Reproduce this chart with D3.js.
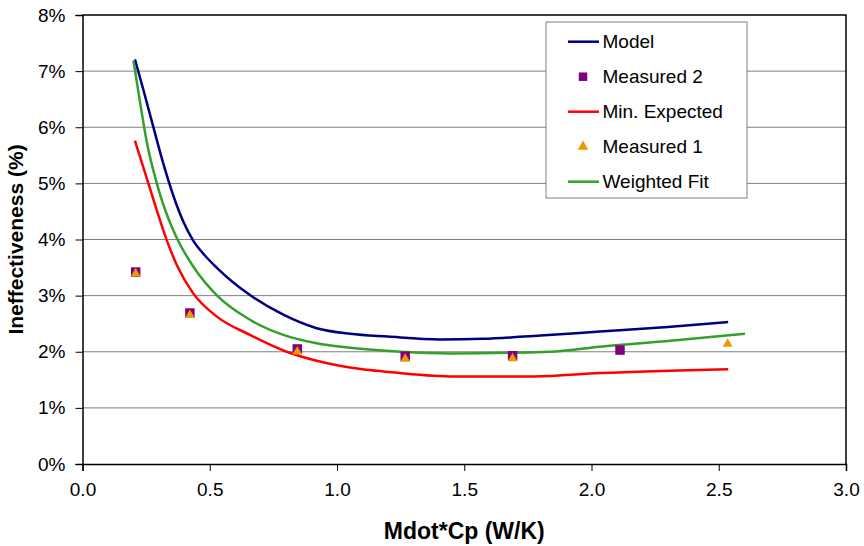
<!DOCTYPE html>
<html>
<head>
<meta charset="utf-8">
<script src="https://cdn.jsdelivr.net/npm/d3@7"></script>
<style>
  body { margin: 0; background: #fff; }
  svg { font-family: "Liberation Sans", Arial, sans-serif; }
</style>
</head>
<body>
<svg></svg>
<script>
const size = {w: 864, h: 546};
const margin = {t: 15, r: 18, b: 82, l: 82.5};
const svg = d3.select('svg').attr('width', size.w).attr('height', size.h);

// ---- data (x in W/K, y as fraction) ----
const modelX = [0.206, 0.239, 0.278, 0.317, 0.357, 0.396, 0.435, 0.48, 0.527, 0.658, 0.789, 0.920, 1.051, 1.2, 1.405, 1.574, 1.8, 2.033, 2.3, 2.537];
const modelY = [0.0721, 0.0667, 0.0601, 0.0536, 0.0478, 0.0432, 0.0398, 0.0372, 0.0350, 0.0301, 0.0266, 0.0242, 0.0232, 0.0227, 0.0222, 0.0223, 0.0229, 0.0236, 0.0244, 0.0253];

const fitX = [0.200, 0.226, 0.252, 0.292, 0.311, 0.370, 0.435, 0.527, 0.658, 0.789, 0.920, 1.051, 1.25, 1.444, 1.837, 2.033, 2.3, 2.603];
const fitY = [0.0719, 0.0645, 0.0575, 0.0500, 0.0471, 0.0403, 0.0352, 0.0301, 0.0257, 0.0230, 0.0215, 0.0207, 0.0200, 0.0197, 0.0200, 0.0209, 0.0219, 0.0232];

const minX = [0.206, 0.252, 0.292, 0.331, 0.370, 0.435, 0.527, 0.658, 0.802, 0.920, 1.0, 1.1, 1.182, 1.444, 1.771, 2.033, 2.537];
const minY = [0.0576, 0.0510, 0.0452, 0.0399, 0.0355, 0.0304, 0.0263, 0.0230, 0.0200, 0.0184, 0.0176, 0.0169, 0.0165, 0.0156, 0.0156, 0.0162, 0.0169];

const meas2X = [0.209, 0.422, 0.844, 1.268, 1.690, 2.112];
const meas2Y = [0.0342, 0.0269, 0.0205, 0.0192, 0.0193, 0.0203];

const meas1X = [0.209, 0.422, 0.844, 1.268, 1.690, 2.535];
const meas1Y = [0.0340, 0.0266, 0.0201, 0.0188, 0.0189, 0.0215];

const xTicks = [0, 0.5, 1, 1.5, 2, 2.5, 3];
const yTicks = [0, 0.01, 0.02, 0.03, 0.04, 0.05, 0.06, 0.07, 0.08];

const colors = {model: '#000080', min: '#ff0000', fit: '#33a02c', m2: '#800080', m1: '#ee9900'};

// ---- scales ----
const x = d3.scaleLinear().domain([0, 3]).range([margin.l, size.w - margin.r]);
const y = d3.scaleLinear().domain([0, 0.08]).range([size.h - margin.b, margin.t]);

// gridlines
svg.append('g').classed('grid', true)
  .selectAll('line')
  .data(yTicks.slice(1, -1))
  .join('line')
  .attr('x1', x(0)).attr('x2', x(3))
  .attr('y1', d => y(d)).attr('y2', d => y(d))
  .attr('stroke', '#808080').attr('stroke-width', 1);

// plot border (top + right)
svg.append('path')
  .attr('d', `M${x(0)},${y(0.08)}H${x(3)}V${y(0)}`)
  .attr('fill', 'none').attr('stroke', '#000').attr('stroke-width', 1.5);

// axes
const yAxis = svg.append('g')
  .attr('transform', `translate(${x(0)},0)`)
  .call(d3.axisLeft(y).tickValues(yTicks).tickFormat(d3.format('.0%')).tickSize(7).tickPadding(10));
const xAxis = svg.append('g')
  .attr('transform', `translate(0,${y(0)})`)
  .call(d3.axisBottom(x).tickValues(xTicks).tickFormat(d3.format('.1f')).tickSize(7).tickPadding(12));

[xAxis, yAxis].forEach(g => {
  g.select('.domain').attr('stroke', '#000').attr('stroke-width', 1.5);
  g.selectAll('.tick line').attr('stroke', '#000');
  g.selectAll('text').attr('font-size', 19).attr('fill', '#000').attr('font-family', 'Liberation Sans, Arial, sans-serif');
});

// axis titles
svg.append('text')
  .attr('x', (x(0) + x(3)) / 2).attr('y', 539)
  .attr('text-anchor', 'middle')
  .attr('font-size', 23).attr('font-weight', 'bold')
  .text('Mdot*Cp (W/K)');
svg.append('text')
  .attr('transform', `translate(23,${(y(0) + y(0.08)) / 2}) rotate(-90)`)
  .attr('text-anchor', 'middle')
  .attr('font-size', 21).attr('font-weight', 'bold')
  .text('Ineffectiveness (%)');

// ---- lines ----
const line = d3.line()
  .x(d => x(d[0]))
  .y(d => y(d[1]))
  .curve(d3.curveMonotoneX);

const plotG = svg.append('g').classed('series', true);
[[modelX, modelY, colors.model], [minX, minY, colors.min], [fitX, fitY, colors.fit]].forEach(([xs, ys, c]) => {
  plotG.append('path')
    .datum(d3.zip(xs, ys))
    .attr('d', line)
    .attr('fill', 'none')
    .attr('stroke', c)
    .attr('stroke-width', 2.5);
});

// ---- markers ----
const sq = d3.symbol(d3.symbolSquare, 90);
const tri = d3.symbol(d3.symbolTriangle, 42);

plotG.append('g').selectAll('path')
  .data(d3.zip(meas2X, meas2Y))
  .join('path')
  .attr('d', sq)
  .attr('transform', d => `translate(${x(d[0])},${y(d[1])})`)
  .attr('fill', colors.m2);

plotG.append('g').selectAll('path')
  .data(d3.zip(meas1X, meas1Y))
  .join('path')
  .attr('d', tri)
  .attr('transform', d => `translate(${x(d[0])},${y(d[1]) + 0.5})`)
  .attr('fill', colors.m1);

// ---- legend ----
const legendItems = [
  {name: 'Model', type: 'line', color: colors.model},
  {name: 'Measured 2', type: 'square', color: colors.m2},
  {name: 'Min. Expected', type: 'line', color: colors.min},
  {name: 'Measured 1', type: 'triangle', color: colors.m1},
  {name: 'Weighted Fit', type: 'line', color: colors.fit}
];

const legendG = svg.append('g').attr('transform', 'translate(546,22)');
legendG.append('rect')
  .attr('width', 201).attr('height', 176)
  .attr('fill', '#fff').attr('stroke', '#808080').attr('stroke-width', 1);

const item = legendG.selectAll('g.item')
  .data(legendItems)
  .join('g').classed('item', true)
  .attr('transform', (d, i) => `translate(0,${19.7 + i * 35})`);

item.filter(d => d.type === 'line').append('line')
  .attr('x1', 22).attr('x2', 53)
  .attr('stroke', d => d.color).attr('stroke-width', 2.5);
item.filter(d => d.type === 'square').append('path')
  .attr('d', d3.symbol(d3.symbolSquare, 72))
  .attr('transform', 'translate(37,0)')
  .attr('fill', d => d.color);
item.filter(d => d.type === 'triangle').append('path')
  .attr('d', d3.symbol(d3.symbolTriangle, 48))
  .attr('transform', 'translate(37,0)')
  .attr('fill', d => d.color);

item.append('text')
  .attr('x', 56.5).attr('dy', '0.35em')
  .attr('font-size', 19)
  .text(d => d.name);
</script>
</body>
</html>
